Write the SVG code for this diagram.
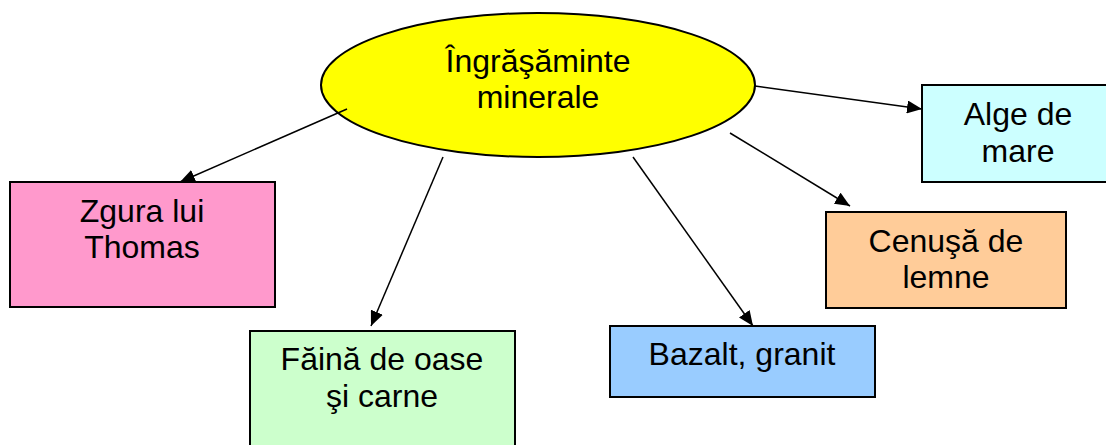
<svg xmlns="http://www.w3.org/2000/svg" width="1106" height="445" viewBox="0 0 1106 445">
<style>
text{font-family:"Liberation Sans",Arial,sans-serif;font-size:32px;fill:#000;text-anchor:middle}
.box{stroke:#000;stroke-width:2}
.conn line{stroke:#000;stroke-width:1.5;fill:none}
</style>
<defs>
<marker id="ah" markerWidth="15" markerHeight="13" refX="15" refY="6.5" orient="auto" markerUnits="userSpaceOnUse">
<path d="M0,0 L15,6.5 L0,13 Z" fill="#000"/>
</marker>
</defs>
<rect width="1106" height="445" fill="#fff"/>
<g id="center">
<ellipse cx="538" cy="85" rx="217" ry="72" fill="#ffff00" stroke="#000" stroke-width="2"/>
<text x="538" y="72">Îngrăşăminte</text>
<text x="538" y="108">minerale</text>
</g>
<g id="zgura">
<rect class="box" x="10" y="182" width="265" height="125" fill="#ff99cc"/>
<text x="142" y="222">Zgura lui</text>
<text x="142" y="258">Thomas</text>
</g>
<g id="faina">
<rect class="box" x="250" y="331" width="265" height="130" fill="#ccffcc"/>
<text x="382" y="370">Făină de oase</text>
<text x="382" y="407">şi carne</text>
</g>
<g id="bazalt">
<rect class="box" x="610" y="326" width="265" height="71" fill="#99ccff"/>
<text x="742" y="365">Bazalt, granit</text>
</g>
<g id="cenusa">
<rect class="box" x="826" y="212" width="240" height="96" fill="#ffcc99"/>
<text x="946" y="252">Cenuşă de</text>
<text x="946" y="288">lemne</text>
</g>
<g id="alge">
<rect class="box" x="922" y="85" width="200" height="97" fill="#ccffff"/>
<text x="1018" y="125">Alge de</text>
<text x="1018" y="162">mare</text>
</g>
<g class="conn" id="connectors">
<line x1="347" y1="109" x2="180" y2="182" marker-end="url(#ah)"/>
<line x1="443" y1="157" x2="371" y2="326" marker-end="url(#ah)"/>
<line x1="633" y1="157" x2="753" y2="326" marker-end="url(#ah)"/>
<line x1="730" y1="133" x2="850" y2="206" marker-end="url(#ah)"/>
<line x1="755" y1="86" x2="922" y2="109" marker-end="url(#ah)"/>
</g>
</svg>
